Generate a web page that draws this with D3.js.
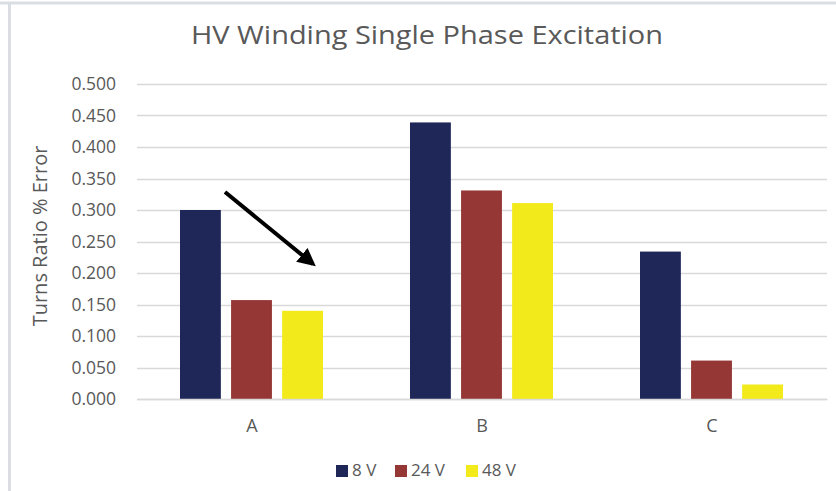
<!DOCTYPE html>
<html>
<head>
<meta charset="utf-8">
<script src="https://cdn.jsdelivr.net/npm/d3@7"></script>
<style>
  body { margin: 0; background: #fff; }
  text { font-family: "Open Sans", "Liberation Sans", sans-serif; fill: #595959; }
</style>
</head>
<body>
<script>
// data
var categories = ["A", "B", "C"];
var seriesNames = ["8 V", "24 V", "48 V"];
var v8 = [0.300, 0.439, 0.234];
var v24 = [0.157, 0.331, 0.061];
var v48 = [0.140, 0.311, 0.023];
var yTicks = [0, 0.05, 0.1, 0.15, 0.2, 0.25, 0.3, 0.35, 0.4, 0.45, 0.5];
var colors = ["#1f2759", "#953735", "#f2ea1a"];

var W = 836, H = 491;
var margin = {top: 84, right: 9, bottom: 92, left: 137},
    width = W - margin.left - margin.right,
    height = H - margin.top - margin.bottom;

var svg = d3.select("body").append("svg")
    .attr("width", W)
    .attr("height", H);

// faint frame of the screenshot
svg.append("line").attr("x1", 0).attr("x2", W).attr("y1", 3).attr("y2", 3)
  .attr("stroke", "#dadee3").attr("stroke-width", 3);
svg.append("line").attr("x1", 9.5).attr("x2", 9.5).attr("y1", 2).attr("y2", H)
  .attr("stroke", "#dadee3").attr("stroke-width", 3);

var g = svg.append("g")
    .attr("transform", "translate(" + margin.left + "," + margin.top + ")");

var rows = categories.map(function(c, i) {
  return {cat: c, values: [v8[i], v24[i], v48[i]]};
});

var x0 = d3.scaleBand().domain(categories).range([0, width]);
var x1 = d3.scaleBand().domain(seriesNames)
    .range([43, 43 + 143]).paddingInner(0.2);
var y = d3.scaleLinear().domain([0, 0.5]).range([height, 0]);

// gridlines
g.selectAll(".grid").data(yTicks).enter().append("line")
  .attr("x1", 0).attr("x2", width)
  .attr("y1", function(d) { return Math.round(y(d)) + 0.5; })
  .attr("y2", function(d) { return Math.round(y(d)) + 0.5; })
  .attr("stroke", "#d9d9d9").attr("stroke-width", 1.3);

// y labels
var yAxis = g.append("g")
  .call(d3.axisLeft(y).tickValues(yTicks).tickFormat(d3.format(".3f")).tickSize(0).tickPadding(21));
yAxis.select(".domain").remove();
yAxis.selectAll("text").style("font-size", "17.5px").attr("fill", "#595959");

// bars
var groups = g.selectAll(".grp").data(rows).enter().append("g")
  .attr("transform", function(d) { return "translate(" + x0(d.cat) + ",0)"; });
groups.selectAll("rect").data(function(d) { return d.values; }).enter().append("rect")
  .attr("x", function(d, i) { return x1(seriesNames[i]); })
  .attr("width", x1.bandwidth())
  .attr("y", function(d) { return y(d); })
  .attr("height", function(d) { return height - y(d); })
  .attr("fill", function(d, i) { return colors[i]; });

// x labels
var xAxis = g.append("g")
  .attr("transform", "translate(0," + height + ")")
  .call(d3.axisBottom(x0).tickSize(0).tickPadding(20));
xAxis.select(".domain").attr("stroke", "#d9d9d9").attr("stroke-width", 1.3);
xAxis.selectAll("text").style("font-size", "18px").attr("fill", "#595959");

// arrow annotation
svg.append("defs").append("marker")
  .attr("id", "head").attr("viewBox", "0 0 10 10")
  .attr("refX", 8).attr("refY", 5)
  .attr("markerWidth", 4.5).attr("markerHeight", 4.5)
  .attr("orient", "auto")
  .append("path").attr("d", "M0,0 L10,5 L0,10 z").attr("fill", "#000");
svg.append("line")
  .attr("x1", 225).attr("y1", 192).attr("x2", 313).attr("y2", 264)
  .attr("stroke", "#000").attr("stroke-width", 4)
  .attr("marker-end", "url(#head)");

// title
svg.append("text")
  .attr("x", 427).attr("y", 44)
  .attr("text-anchor", "middle")
  .attr("textLength", 472)
  .attr("lengthAdjust", "spacingAndGlyphs")
  .style("font-size", "26px")
  .text("HV Winding Single Phase Excitation");

// y axis title
svg.append("text")
  .attr("transform", "translate(47,236) rotate(-90)")
  .attr("text-anchor", "middle")
  .style("font-size", "20px")
  .text("Turns Ratio % Error");

// legend
var legendX = [336, 395, 466];
var leg = svg.selectAll(".leg").data(seriesNames).enter().append("g")
  .attr("transform", function(d, i) { return "translate(" + legendX[i] + ",465)"; });
leg.append("rect").attr("width", 12).attr("height", 12)
  .attr("fill", function(d, i) { return colors[i]; });
leg.append("text").attr("x", 16).attr("y", 6)
  .attr("dominant-baseline", "middle")
  .style("font-size", "17px")
  .text(function(d) { return d; });
</script>
</body>
</html>
